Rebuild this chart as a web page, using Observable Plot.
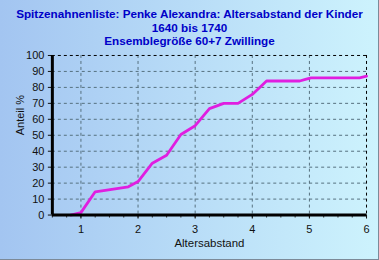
<!DOCTYPE html>
<html>
<head>
<meta charset="utf-8">
<script src="https://cdn.jsdelivr.net/npm/d3@7"></script>
<script src="https://cdn.jsdelivr.net/npm/@observablehq/plot@0.6"></script>
<style>
  html, body { margin: 0; padding: 0; }
  #wrap {
    position: relative; width: 379px; height: 260px; box-sizing: border-box;
    background: linear-gradient(to right, #a3c5f1, #cdf3fd);
    border-right: 1px solid #7c8a98; border-bottom: 1px solid #7c8a98;
    font-family: "Liberation Sans", Arial, sans-serif; overflow: hidden;
  }
  #title {
    position: absolute; left: 0; top: 7px; width: 379px; text-align: center;
    color: #0000c8; font-weight: bold; font-size: 11.7px; line-height: 13.5px;
  }
  #chart { position: absolute; left: 0; top: 47px; }
</style>
</head>
<body>
<div id="wrap">
  <div id="title">Spitzenahnenliste: Penke Alexandra: Altersabstand der Kinder<br>1640 bis 1740<br>Ensemblegröße 60+7 Zwillinge</div>
  <div id="chart"></div>
</div>
<script>
const ageGap = [0.82, 1.0, 1.25, 1.83, 2.0, 2.25, 2.5, 2.75, 3.0, 3.25, 3.5, 3.75, 4.0, 4.25, 4.83, 4.93, 5.03, 5.88, 6.0];
const share  = [0, 1.5, 14.6, 17.7, 21, 32.5, 37.5, 50.5, 56, 66.7, 70, 70, 75.6, 84, 84, 85, 86, 86, 87];
const xTicks = [1, 2, 3, 4, 5, 6];
const xMinor = d3.range(0.5, 6.001, 0.25);
const yTicks = d3.range(0, 101, 10);

const data = ageGap.map((x, i) => ({x, y: share[i]}));

const chart = Plot.plot({
  width: 379, height: 213,
  marginLeft: 52, marginRight: 12, marginTop: 8, marginBottom: 45,
  style: {background: "transparent", fontFamily: "'Liberation Sans', Arial, sans-serif", fontSize: "11px", color: "#111"},
  x: {domain: [0.5, 6]},
  y: {domain: [0, 100]},
  marks: [
    Plot.gridX(xTicks.slice(0, -1), {stroke: "#55707e", strokeOpacity: 1, strokeDasharray: "3,3"}),
    Plot.gridY(yTicks.slice(1, -1), {stroke: "#55707e", strokeOpacity: 1, strokeDasharray: "3,3"}),
    Plot.ruleY([100], {stroke: "#000", strokeDasharray: "3,3"}),
    Plot.ruleX([6], {stroke: "#000", strokeDasharray: "3,3"}),
    Plot.line(data, {x: "x", y: "y", stroke: "#e01ee0", strokeWidth: 2.8}),
    Plot.axisX(xMinor, {tickSize: 3, tickFormat: () => "", label: null, stroke: "#333"}),
    Plot.axisX(xTicks, {tickSize: 4, tickPadding: 6, label: null}),
    Plot.axisY(yTicks, {tickSize: 4, tickPadding: 4, label: null}),
    Plot.ruleX([0.5], {stroke: "#000", strokeWidth: 3}),
    Plot.ruleY([0], {stroke: "#000", strokeWidth: 3}),
    Plot.text(["Anteil %"], {frameAnchor: "left", dx: -32, rotate: -90, fill: "#111"}),
    Plot.text(["Altersabstand"], {frameAnchor: "bottom", dy: 28, lineAnchor: "middle", fill: "#111", fontSize: 11.5})
  ]
});
document.getElementById("chart").appendChild(chart);
</script>
</body>
</html>
